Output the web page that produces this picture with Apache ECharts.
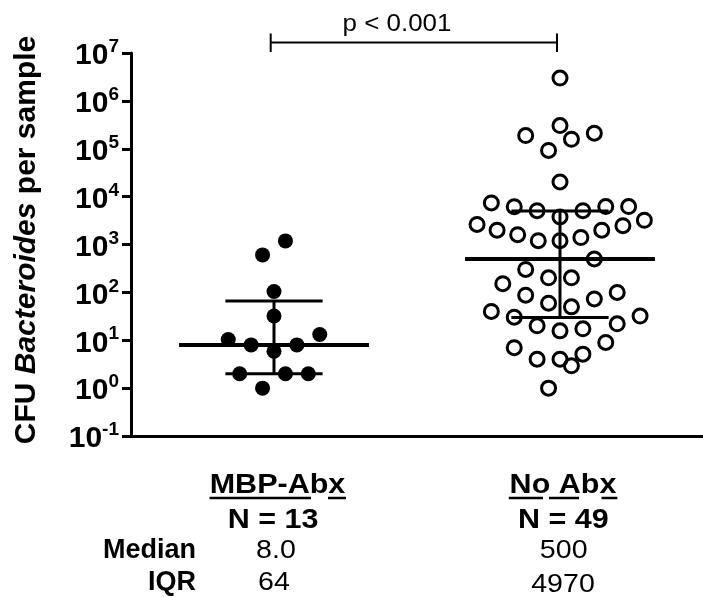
<!DOCTYPE html>
<html>
<head>
<meta charset="utf-8">
<script src="https://cdn.jsdelivr.net/npm/echarts@6/dist/echarts.min.js"></script>
<style>
  html, body { margin: 0; padding: 0; background: #fff; }
  #chart { width: 703px; height: 597px; }
</style>
</head>
<body>
<div id="chart"></div>
<script>
"use strict";

/* ── data ── */
const groups = ["MBP-Abx", "No Abx"];

// jitter offset (in category widths) and CFU value for each sample
const mbpX = [0.04, -0.04, 0, 0, -0.16, 0.16, -0.08, 0.08, 0, -0.12, 0.04, 0.12, -0.04];
const mbpY = [1190, 607, 104, 32, 10.4, 13.2, 8, 8, 5.9, 2, 2, 2, 1];

const noAbxX = [
  0, 0, -0.12, 0.04, 0.12, -0.04, 0,
  -0.24, -0.16, -0.08, 0.08, 0.16, 0.24, 0,
  -0.29, 0.295, -0.22, 0.22, -0.148, 0.146, -0.076, 0, 0.073,
  0.12, -0.12, -0.04, 0.04, -0.2, 0.2, -0.12, -0.04, 0.12, 0.04,
  -0.24, -0.16, 0.28, -0.08, 0, 0.08, 0.2, 0.16, -0.16,
  -0.08, 0, 0.08, 0.04, -0.04
];
const noAbxY = [
  3.0e6, 3.05e5, 1.89e5, 1.58e5, 2.11e5, 9.2e4, 2.03e4,
  7380, 6150, 5080, 5080, 6210, 6210, 3770,
  2630, 3210, 1990, 2470, 1600, 1990, 1200, 1200, 1400,
  500, 302, 201, 201, 152, 99.5, 87.4, 59.5, 73.1, 49.8,
  39.9, 30.3, 32.1, 20, 15.7, 17.3, 22, 9.0, 7.0,
  4.03, 4.03, 5.13, 2.92, 1.0
];

const medians = [8, 500];
const q1 = [2, 30];
const q3 = [66, 5000];

const nLabels = ["N = 13", "N = 49"];
const medianLabels = ["8.0", "500"];
const iqrLabels = ["64", "4970"];
const pText = "p < 0.001";

const FONT = "'Liberation Sans', Arial, Helvetica, sans-serif";

const chart = echarts.init(document.getElementById("chart"));

// median + IQR bars drawn in data space
function renderSummary(params, api) {
  const x = api.value(0), med = api.value(1), lo = api.value(2), hi = api.value(3);
  const p = (dx, v) => api.coord([x + dx, v]);
  const seg = (a, b, w) => ({
    type: "line",
    shape: { x1: a[0], y1: a[1], x2: b[0], y2: b[1] },
    style: { stroke: "#000", lineWidth: w }
  });
  return {
    type: "group",
    children: [
      seg(p(-0.332, med), p(0.332, med), 4),
      seg(p(-0.17, hi), p(0.17, hi), 3),
      seg(p(-0.17, lo), p(0.17, lo), 3),
      seg(p(0, lo), p(0, hi), 3)
    ]
  };
}

const boldText = (text, x, y, extra) => Object.assign({
  type: "text", x: x, y: y,
  style: { text: text, fill: "#000", font: "bold 27px " + FONT, align: "center", verticalAlign: "middle" }
}, extra || {});
const plainText = (text, x, y, extra) => Object.assign({
  type: "text", x: x, y: y,
  style: { text: text, fill: "#000", font: "26px " + FONT, align: "center", verticalAlign: "middle" }
}, extra || {});
const hLine = (x1, x2, y, w) => ({
  type: "line", shape: { x1: x1, y1: y, x2: x2, y2: y }, style: { stroke: "#000", lineWidth: w }
});
const vLine = (x, y1, y2, w) => ({
  type: "line", shape: { x1: x, y1: y1, x2: x, y2: y2 }, style: { stroke: "#000", lineWidth: w }
});

const colX = [277.5, 563];

chart.setOption({
  animation: false,
  backgroundColor: "#fff",
  grid: { left: 131, top: 53, width: 577, height: 383 },
  xAxis: [
    {
      type: "category", data: groups, boundaryGap: true,
      axisLine: { onZero: false, lineStyle: { color: "#000", width: 3 } },
      axisTick: { alignWithLabel: true, length: 11, lineStyle: { color: "#000", width: 3 } },
      axisLabel: { show: false },
      splitLine: { show: false }
    },
    { type: "value", min: -0.5, max: 1.5, show: false }
  ],
  yAxis: {
    type: "log", logBase: 10, min: 0.1, max: 1e7, splitNumber: 8,
    axisLine: { show: true, onZero: false, lineStyle: { color: "#000", width: 3 } },
    axisTick: { show: true, length: 9, lineStyle: { color: "#000", width: 3 } },
    splitLine: { show: false },
    minorTick: { show: false },
    axisLabel: {
      margin: 12,
      formatter: v => `{b|10}{s|${Math.round(Math.log10(v))}}`,
      rich: {
        b: { fontSize: 30, fontWeight: "bold", fontFamily: FONT, color: "#000", padding: [6, 0, 0, 0] },
        s: { fontSize: 19, fontWeight: "bold", fontFamily: FONT, color: "#000", padding: [0, 0, 12, 0] }
      }
    }
  },
  series: [
    {
      type: "custom", xAxisIndex: 1, yAxisIndex: 0, silent: true,
      renderItem: renderSummary,
      data: groups.map((g, i) => [i, medians[i], q1[i], q3[i]]),
      z: 2
    },
    {
      name: groups[0], type: "scatter", xAxisIndex: 1, yAxisIndex: 0, silent: true,
      symbol: "circle", symbolSize: 15,
      itemStyle: { color: "#000", opacity: 1 },
      data: mbpX.map((dx, i) => [0 + dx, mbpY[i]]),
      z: 3
    },
    {
      name: groups[1], type: "scatter", xAxisIndex: 1, yAxisIndex: 0, silent: true,
      symbol: "circle", symbolSize: 14,
      itemStyle: { color: "rgba(0,0,0,0)", borderColor: "#000", borderWidth: 3, opacity: 1 },
      data: noAbxX.map((dx, i) => [1 + dx, noAbxY[i]]),
      z: 3
    }
  ],
  graphic: {
    elements: [
      // y axis title
      {
        type: "text", x: 27, y: 240, rotation: Math.PI / 2,
        style: {
          text: "{n|CFU }{i|Bacteroides}{n| per sample}",
          align: "center", verticalAlign: "middle",
          rich: {
            n: { font: "bold 30px " + FONT, fill: "#000" },
            i: { font: "italic bold 30px " + FONT, fill: "#000" }
          }
        }
      },
      // significance bracket
      hLine(270.7, 557, 42.5, 2),
      vLine(270.7, 33.5, 52, 2),
      vLine(557, 33.5, 52, 2),
      {
        type: "text", x: 397, y: 24, scaleX: 1.08,
        style: { text: pText, fill: "#000", font: "24px " + FONT, align: "center", verticalAlign: "middle" }
      },
      // group titles (underlined)
      boldText(groups[0], colX[0], 486, { scaleX: 1.13 }),
      boldText(groups[1], colX[1], 486, { scaleX: 1.13 }),
      hLine(209.5, 311, 498, 2.5),
      hLine(328, 346, 498, 2.5),
      hLine(508.8, 543, 498, 2.5),
      hLine(549, 579, 498, 2.5),
      hLine(601.5, 617.3, 498, 2.5),
      boldText(nLabels[0], 273, 521, { scaleX: 1.13 }),
      boldText(nLabels[1], 563.4, 521, { scaleX: 1.13 }),
      // summary rows
      {
        type: "text", x: 196, y: 551,
        style: { text: "Median", fill: "#000", font: "bold 27px " + FONT, align: "right", verticalAlign: "middle" }
      },
      {
        type: "text", x: 196, y: 583,
        style: { text: "IQR", fill: "#000", font: "bold 27px " + FONT, align: "right", verticalAlign: "middle" }
      },
      plainText(medianLabels[0], 276, 551, { scaleX: 1.1 }),
      plainText(medianLabels[1], 563.7, 551, { scaleX: 1.1 }),
      plainText(iqrLabels[0], 274, 583, { scaleX: 1.1 }),
      plainText(iqrLabels[1], 563, 585, { scaleX: 1.1 })
    ]
  }
});
</script>
</body>
</html>
